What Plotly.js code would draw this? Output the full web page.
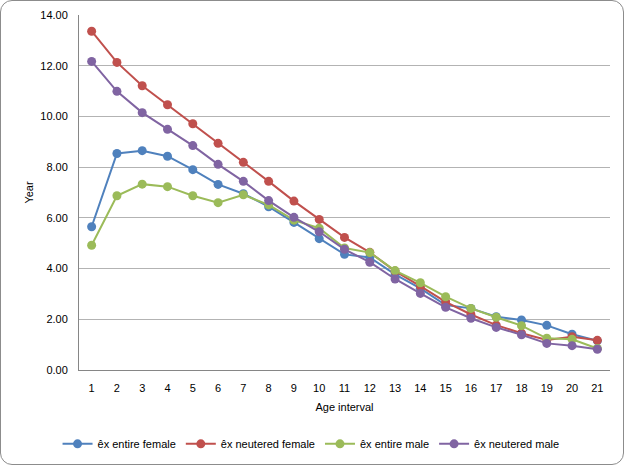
<!DOCTYPE html>
<html>
<head>
<meta charset="utf-8">
<script src="https://cdn.plot.ly/plotly-3.0.1.min.js"></script>
<style>
html,body{margin:0;padding:0;background:#fff;}
#wrap{position:relative;width:624px;height:465px;}
#chart{width:624px;height:465px;}
#frame{position:absolute;left:0;top:0;width:622px;height:463px;border:1px solid #8c8c8c;border-radius:12px;pointer-events:none;}
</style>
</head>
<body>
<div id="wrap"><div id="chart"></div><div id="frame"></div></div>
<script>
const ageIntervals = [1,2,3,4,5,6,7,8,9,10,11,12,13,14,15,16,17,18,19,20,21];
const entireFemale = [5.65,8.54,8.65,8.43,7.90,7.32,6.95,6.44,5.82,5.18,4.56,4.44,3.77,3.22,2.56,2.43,2.10,1.97,1.76,1.41,1.15];
const neuteredFemale = [13.36,12.13,11.21,10.46,9.71,8.94,8.19,7.44,6.66,5.94,5.23,4.64,3.90,3.31,2.69,2.19,1.77,1.45,1.18,1.31,1.17];
const entireMale = [4.92,6.87,7.33,7.23,6.87,6.60,6.91,6.51,5.91,5.59,4.81,4.63,3.92,3.44,2.89,2.43,2.08,1.75,1.25,1.21,0.85];
const neuteredMale = [12.17,10.99,10.15,9.49,8.85,8.11,7.44,6.68,6.02,5.45,4.76,4.25,3.59,3.02,2.47,2.04,1.68,1.39,1.05,0.96,0.82];
const seriesNames = ['êx entire female','êx neutered female','êx entire male','êx neutered male'];
const yTicks = [0,2,4,6,8,10,12,14];

const colors = ['#4F81BD','#C0504D','#9BBB59','#8064A2'];
const data = [entireFemale, neuteredFemale, entireMale, neuteredMale].map((ys,i)=>({
  type:'scatter', mode:'lines+markers', name:seriesNames[i],
  x: ageIntervals.map(String), y: ys,
  line:{color:colors[i], width:2},
  marker:{color:colors[i], size:9}
}));

const font = {family:'Liberation Sans, Arial, sans-serif', size:11, color:'#000'};
const layout = {
  width:624, height:465,
  margin:{l:79, r:14, t:15, b:95, autoexpand:false},
  paper_bgcolor:'rgba(0,0,0,0)', plot_bgcolor:'#fff',
  font: font,
  showlegend:true,
  legend:{orientation:'h', x:0.437, xanchor:'center', y:-0.208, yanchor:'middle', font:{family:font.family, size:11, color:'#000'}, itemwidth:30, tracegroupgap:0},
  xaxis:{type:'category', range:[-0.5,20.5], showgrid:false, showline:true, linecolor:'#868686', linewidth:1,
    ticks:'', ticklabelstandoff:8, tickfont:{size:11}, title:{text:'Age interval', font:{size:11}, standoff:10}, zeroline:false, fixedrange:true, automargin:false},
  yaxis:{range:[0,14], tickvals:yTicks, ticktext:yTicks.map(v=>v.toFixed(2)), showgrid:true, gridcolor:'#b3b3b3', gridwidth:1,
    showline:true, linecolor:'#868686', linewidth:1, ticks:'', ticklabelstandoff:8, tickfont:{size:11}, zeroline:false,
    title:{text:'Year', font:{size:11}, standoff:4}, fixedrange:true, automargin:false}
};
Plotly.newPlot('chart', data, layout, {displayModeBar:false, staticPlot:true});
</script>
</body>
</html>
